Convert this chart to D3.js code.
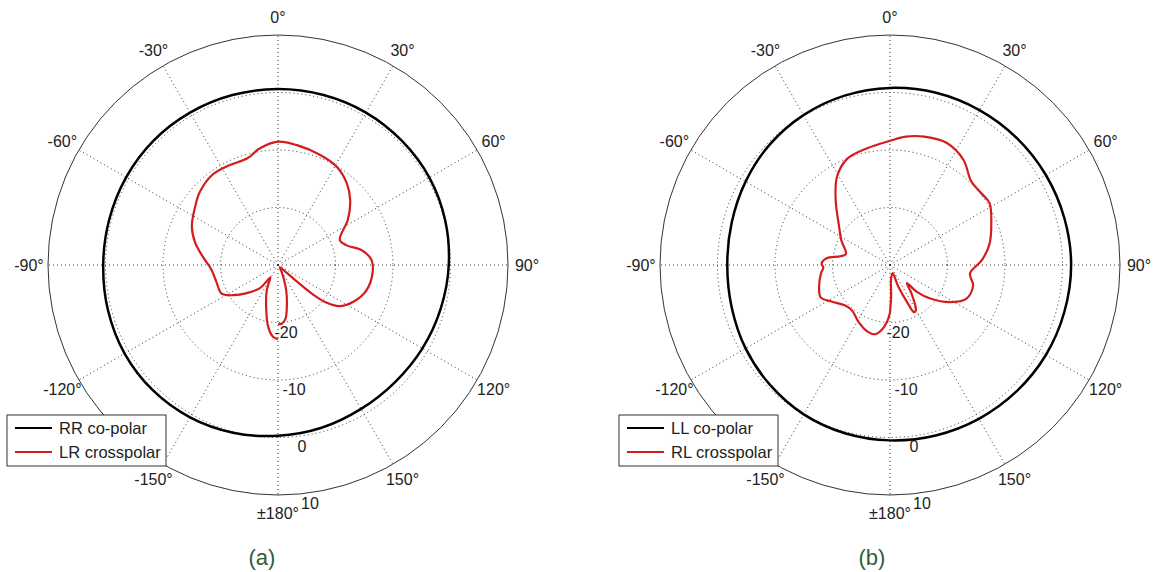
<!DOCTYPE html>
<meta charset="utf-8">
<head>
<style>
body { margin: 0; background: #fff; }
text { font-family: "Liberation Sans", Arial, sans-serif; }
</style>
<script src="https://d3js.org/d3.v7.min.js"></script>
</head>
<body>
<div id="chart"></div>
<script>
// angle labels round the rim, clockwise from the top
var angleTicks = [0, 30, 60, 90, 120, 150, 180, -150, -120, -90, -60, -30];
var angleLabels = ["0°", "30°", "60°", "90°", "120°", "150°", "±180°", "-150°", "-120°", "-90°", "-60°", "-30°"];
var ringTicks = [-20, -10, 0, 10];

// co-polar patterns (dB), sampled every 15 degrees
var coAngles = [-180, -165, -150, -135, -120, -105, -90, -75, -60, -45, -30, -15, 0, 15, 30, 45, 60, 75, 90, 105, 120, 135, 150, 165];
var rrCoPolar = [-0.3, 0.2, 0.6, 0.8, 0.8, 0.6, 0.4, 0.4, 0.5, 0.6, 0.6, 0.6, 0.6, 0.6, 0.6, 0.5, 0.4, 0.1, -0.3, -0.7, -1.0, -1.2, -1.1, -0.7];
var llCoPolar = [0.5, 0.3, 0.0, -0.5, -1.0, -1.5, -1.7, -1.5, -1.0, -0.4, 0.1, 0.5, 0.8, 1.0, 1.1, 1.2, 1.3, 1.4, 1.5, 1.4, 1.3, 1.1, 0.9, 0.7];

// cross-polar patterns (dB)
var lrAngles = [-180, -176, -171, -164, -156, -148, -145, -142, -132, -124, -117, -106, -94, -84, -75, -66, -55, -47, -36, -26, -16, -9, 0, 9, 21, 31, 40, 48, 57, 68, 74, 80, 87, 95, 106, 116, 124, 128, 130, 131, 132, 140, 150, 156, 162, 168, 172, 176, 180];
var lrCross = [-17.1, -17.5, -19.1, -22.5, -25.2, -27.5, -26.5, -24.9, -22.7, -20.6, -19.0, -18.9, -18.4, -16.9, -15.1, -13.6, -12.4, -11.4, -10.6, -10.7, -10.7, -9.5, -8.55, -8.9, -9.5, -10.1, -11.4, -13.1, -15.5, -18.4, -17.6, -15.2, -13.7, -13.5, -14.0, -15.4, -17.2, -19.5, -22, -25, -28, -29.5, -29, -27.8, -25.4, -22.6, -20.6, -19.8, -19.7];

var rlAngles = [-180, -177, -173, -168, -161, -151, -140, -132, -122, -115, -107, -97, -92, -89, -84, -80, -76, -63, -51, -40, -31, -22, -11, 0, 7, 15, 25, 35, 44, 52, 58, 68, 78, 87, 96, 104, 114, 122, 130, 135, 137, 143, 150, 153, 155, 159, 162, 175, 178, 180];
var rlCross = [-21.7, -20.1, -18.7, -17.7, -17.8, -18.7, -19.7, -19.5, -18.0, -16.7, -17.1, -17.9, -18.4, -18.1, -18.9, -21.2, -22.1, -20.5, -18.5, -15.3, -12.1, -10.1, -9.3, -8.4, -7.5, -6.9, -6.6, -7.7, -9.7, -9.8, -9.6, -11.0, -12.3, -14.0, -16.0, -15.1, -15.5, -17.8, -21.0, -23.4, -25.7, -23.8, -21.0, -20.8, -22.6, -26.0, -28.5, -27.7, -24.5, -21.7];

var width = 1159,
    height = 572,
    R = 230;

var svg = d3.select("#chart").append("svg")
    .attr("width", width)
    .attr("height", height);

var r = d3.scaleLinear().domain([-30, 10]).range([0, R]).clamp(true);
var rad = function(deg) { return deg * Math.PI / 180; };

function zip(a, b) {
  return a.map(function(d, i) { return [d, b[i]]; });
}

function polar(cx, cy, coData, crossData, names, caption, capX) {
  var g = svg.append("g").attr("transform", "translate(" + cx + "," + cy + ")");

  // dotted rings
  g.selectAll(".ring").data(ringTicks.slice(0, 3)).enter().append("circle")
      .attr("r", function(d) { return r(d); })
      .attr("fill", "none")
      .attr("stroke", "#333")
      .attr("stroke-dasharray", "1,3");

  // dotted spokes
  g.selectAll(".spoke").data(angleTicks).enter().append("line")
      .attr("x1", 0).attr("y1", 0)
      .attr("x2", function(d) { return d3.pointRadial(rad(d), R)[0]; })
      .attr("y2", function(d) { return d3.pointRadial(rad(d), R)[1]; })
      .attr("stroke", "#333")
      .attr("stroke-dasharray", "1,3");

  // rim
  g.append("circle")
      .attr("r", R)
      .attr("fill", "none")
      .attr("stroke", "#333")
      .attr("stroke-width", 1);

  g.selectAll(".alabel").data(angleTicks).enter().append("text")
      .attr("x", function(d) { return d3.pointRadial(rad(d), R + 19)[0]; })
      .attr("y", function(d) { return d3.pointRadial(rad(d), R + 18)[1]; })
      .attr("text-anchor", "middle")
      .attr("dominant-baseline", "central")
      .attr("font-size", 16)
      .attr("fill", "#222")
      .text(function(d, i) { return angleLabels[i]; });

  g.selectAll(".rlabel").data(ringTicks).enter().append("text")
      .attr("x", function(d) { return d3.pointRadial(rad(172), r(d))[0]; })
      .attr("y", function(d) { return d3.pointRadial(rad(172), r(d))[1] + 11; })
      .attr("text-anchor", "middle")
      .attr("dominant-baseline", "central")
      .attr("font-size", 16)
      .attr("fill", "#222")
      .text(function(d) { return d; });

  var coLine = d3.lineRadial()
      .angle(function(d) { return rad(d[0]); })
      .radius(function(d) { return r(d[1]); })
      .curve(d3.curveCardinalClosed);

  var crossLine = d3.lineRadial()
      .angle(function(d) { return rad(d[0]); })
      .radius(function(d) { return r(d[1]); })
      .curve(d3.curveCatmullRom.alpha(0.5));

  g.append("path")
      .attr("d", coLine(coData))
      .attr("fill", "none")
      .attr("stroke", "#000")
      .attr("stroke-width", 2.5);

  g.append("path")
      .attr("d", crossLine(crossData))
      .attr("fill", "none")
      .attr("stroke", "#d41c1c")
      .attr("stroke-width", 2.2)
      .attr("stroke-linejoin", "round");

  // legend
  var lg = g.append("g").attr("transform", "translate(" + (-271) + "," + 150 + ")");
  lg.append("rect")
      .attr("width", 159).attr("height", 51)
      .attr("fill", "#fff")
      .attr("stroke", "#333");
  [["#000", names[0]], ["#d41c1c", names[1]]].forEach(function(d, i) {
    var y = 13 + i * 24;
    lg.append("line")
        .attr("x1", 8).attr("x2", 45)
        .attr("y1", y).attr("y2", y)
        .attr("stroke", d[0])
        .attr("stroke-width", 2);
    lg.append("text")
        .attr("x", 52).attr("y", y)
        .attr("dominant-baseline", "central")
        .attr("font-size", 16.5)
        .attr("fill", "#222")
        .text(d[1]);
  });

  svg.append("text")
      .attr("x", capX).attr("y", 557)
      .attr("text-anchor", "middle")
      .attr("dominant-baseline", "central")
      .attr("font-size", 22)
      .attr("fill", "#2f5e3e")
      .text(caption);
}

polar(278, 265, zip(coAngles, rrCoPolar), zip(lrAngles, lrCross), ["RR co-polar", "LR crosspolar"], "(a)", 262);
polar(890, 265, zip(coAngles, llCoPolar), zip(rlAngles, rlCross), ["LL co-polar", "RL crosspolar"], "(b)", 872);
</script>
</body>
